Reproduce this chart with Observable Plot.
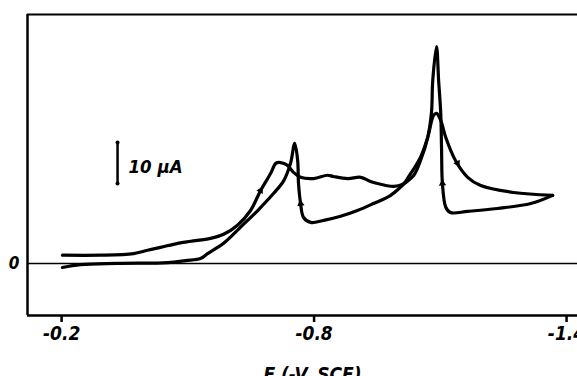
<!DOCTYPE html>
<html>
<head>
<meta charset="utf-8">
<script src="https://cdn.jsdelivr.net/npm/d3@7"></script>
<script src="https://cdn.jsdelivr.net/npm/@observablehq/plot@0.6"></script>
<style>
  html, body { margin: 0; padding: 0; background: #fff; }
  #chart svg { display: block; }
</style>
</head>
<body>
<div id="chart"></div>
<script>
// Potential E (V vs SCE) and current I (µA)
const forwardE = [-0.202,-0.245,-0.333,-0.452,-0.495,-0.530,-0.547,-0.585,-0.625,-0.666,-0.704,-0.728,-0.744,-0.754,-0.761,-0.763,-0.768,-0.775,-0.792,-0.823,-0.863,-0.903,-0.941,-0.982,-1.013,-1.037,-1.053,-1.070,-1.079,-1.082,-1.091,-1.096,-1.101,-1.103,-1.105,-1.113,-1.124,-1.165,-1.236,-1.315,-1.367];
const forwardI = [-1.0,-0.3,0.0,0.2,0.7,1.2,2.4,4.9,8.8,12.9,17.1,20.2,24.4,29.3,25.1,19.5,14.6,11.2,10.0,10.5,11.5,12.9,14.6,16.6,19.3,21.5,25.1,30.7,36.8,44.6,52.9,44.6,36.6,27.6,19.5,13.7,12.4,12.7,13.4,14.6,16.6];
const reverseE = [-1.367,-1.274,-1.196,-1.165,-1.136,-1.113,-1.101,-1.091,-1.084,-1.070,-1.053,-1.025,-1.013,-0.989,-0.958,-0.934,-0.911,-0.880,-0.846,-0.832,-0.799,-0.768,-0.751,-0.737,-0.720,-0.709,-0.697,-0.673,-0.649,-0.618,-0.585,-0.554,-0.507,-0.476,-0.435,-0.404,-0.371,-0.293,-0.202];
const reverseI = [16.6,17.3,19.0,21.0,25.1,30.7,34.9,36.6,36.1,30.7,25.9,21.2,19.5,18.8,19.3,20.0,21.0,20.7,21.2,21.5,20.7,21.0,22.2,23.9,24.6,24.4,22.0,17.8,12.9,9.3,7.1,6.1,5.4,4.9,3.9,3.2,2.4,2.0,2.0];

// scan-direction arrowheads on the curves: E, I, heading (degrees)
const arrowE = [-0.673, -1.141, -1.105, -0.768];
const arrowI = [17.8, 24.4, 19.5, 14.6];
const arrowHeading = [28, 151, -4, -8];

const xTicks = [-0.2, -0.8, -1.4];
const yTicks = [0];
const xDomain = [-0.119, -1.426];
const yDomain = [-12.7, 60.7];
const xLabel = "E (-V, SCE)";

// 10 µA scale bar
const barE = -0.333;
const barI = [19.5, 29.5];
const barLabel = "10 µA";
const barLabelE = -0.359;
const barLabelI = 23.4;

const forward = forwardE.map((e, i) => ({E: e, I: forwardI[i]}));
const reverse = reverseE.map((e, i) => ({E: e, I: reverseI[i]}));
const arrows = arrowE.map((e, i) => ({E: e, I: arrowI[i], a: arrowHeading[i]}));

const font = "'Liberation Sans Narrow', 'DejaVu Sans Condensed', 'Liberation Sans', sans-serif";
const fmt = d => "-" + Math.abs(d).toFixed(1);

const chart = Plot.plot({
  width: 577,
  height: 376,
  marginLeft: 27,
  marginRight: 0,
  marginTop: 14,
  marginBottom: 61,
  style: {fontFamily: font, fontWeight: "bold", fontStyle: "italic", background: "#fff", color: "#000"},
  x: {domain: xDomain, ticks: xTicks, tickFormat: fmt, label: null},
  y: {domain: yDomain, ticks: yTicks, label: null},
  marks: [
    Plot.ruleY([0], {stroke: "#000", strokeWidth: 1.5}),
    Plot.ruleX([xDomain[0]], {stroke: "#000", strokeWidth: 2.5}),
    Plot.ruleY([yDomain[0]], {stroke: "#000", strokeWidth: 2.5}),
    Plot.ruleY([yDomain[1]], {stroke: "#000", strokeWidth: 2}),
    Plot.line(forward, {x: "E", y: "I", stroke: "#000", strokeWidth: 3.2, curve: "catmull-rom"}),
    Plot.line(reverse, {x: "E", y: "I", stroke: "#000", strokeWidth: 3.2, curve: "catmull-rom"}),
    Plot.dot(arrows, {x: "E", y: "I", rotate: "a", symbol: "triangle2", r: 3.5, fill: "#000", stroke: "none"}),
    Plot.ruleX([barE], {y1: barI[0], y2: barI[1], stroke: "#000", strokeWidth: 2.5}),
    Plot.dot(barI.map(v => ({E: barE, I: v})), {x: "E", y: "I", r: 2, fill: "#000"}),
    Plot.text([barLabel], {x: barLabelE, y: barLabelI, text: d => d, textAnchor: "start", fontSize: 18.5, fontWeight: "bold", fontStyle: "italic"}),
    Plot.axisX({ticks: xTicks, tickFormat: fmt, tickSize: 7, tickPadding: 4, fontSize: 19, strokeWidth: 2.5, label: null}),
    Plot.axisY({ticks: yTicks, tickSize: 0, tickPadding: 8, fontSize: 17, label: null}),
    Plot.text([xLabel], {frameAnchor: "bottom", text: d => d, lineAnchor: "top", dy: 52, dx: 10, fontSize: 19, fontWeight: "bold", fontStyle: "italic"})
  ]
});
document.getElementById("chart").appendChild(chart);
</script>
</body>
</html>
